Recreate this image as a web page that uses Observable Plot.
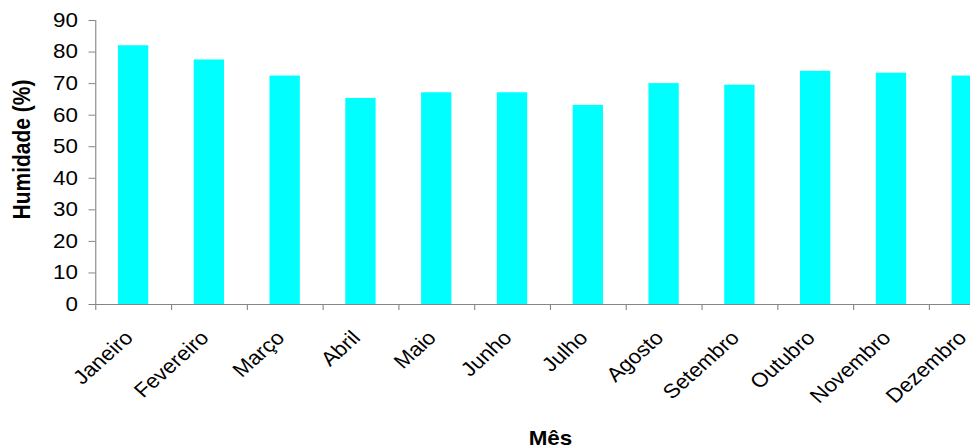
<!DOCTYPE html>
<html>
<head>
<meta charset="utf-8">
<script src="https://cdn.jsdelivr.net/npm/d3@7"></script>
<script src="https://cdn.jsdelivr.net/npm/@observablehq/plot@0.6"></script>
<style>
  html, body { margin: 0; padding: 0; overflow: hidden; background: #fff; }
  #chart svg { display: block; transform: scaleX(1.12); transform-origin: 0 0; }
</style>
</head>
<body>
<div id="chart"></div>
<script>
// Mean relative humidity per month (%)
const months = ["Janeiro", "Fevereiro", "Março", "Abril", "Maio", "Junho",
                "Julho", "Agosto", "Setembro", "Outubro", "Novembro", "Dezembro"];
const humidity = [82, 77.5, 72.4, 65.3, 67.1, 67.1, 63.1, 70, 69.5, 73.9, 73.3, 72.4];
const yTicks = [0, 10, 20, 30, 40, 50, 60, 70, 80, 90];
const yTitle = "Humidade (%)";
const xTitle = "Mês";

const axisGray = "#868686";
const width = 897;
const marginLeft = 85;
const step = (width - marginLeft) / months.length;

const rows = months.map((month, i) => ({month, value: humidity[i]}));

const chart = Plot.plot({
  width,
  height: 448,
  marginTop: 20,
  marginBottom: 144,
  marginLeft,
  marginRight: 0,
  style: {
    fontFamily: "'Liberation Sans', Arial, sans-serif",
    fontSize: "20px",
    color: "#000",
    background: "#fff"
  },
  x: {domain: months, paddingInner: 0.6, paddingOuter: 0.3, round: false, label: null},
  y: {domain: [0, 90], label: null},
  marks: [
    Plot.barY(rows, {x: "month", y: "value", fill: "#00FFFF"}),
    Plot.frame({anchor: "left", stroke: axisGray}),
    Plot.ruleY([0], {stroke: axisGray}),
    // category ticks sit on the band boundaries
    Plot.ruleX(months, {x: (d) => d, y1: 0, y2: 0, dx: -step / 2, insetBottom: -6, stroke: axisGray}),
    Plot.axisY({ticks: yTicks, tickSize: 6, tickPadding: 10, stroke: axisGray, label: null}),
    Plot.axisX({tickSize: 0, tickPadding: 30, tickRotate: -45, dx: -4, label: null}),
    Plot.text([yTitle], {frameAnchor: "left", textAnchor: "middle", dx: -65, dy: -13, rotate: -90,
                         fontWeight: "bold", fontSize: 21}),
    Plot.text([xTitle], {frameAnchor: "bottom", textAnchor: "middle", dy: 140, fontWeight: "bold", fontSize: 20})
  ]
});

document.getElementById("chart").append(chart);
</script>
</body>
</html>
